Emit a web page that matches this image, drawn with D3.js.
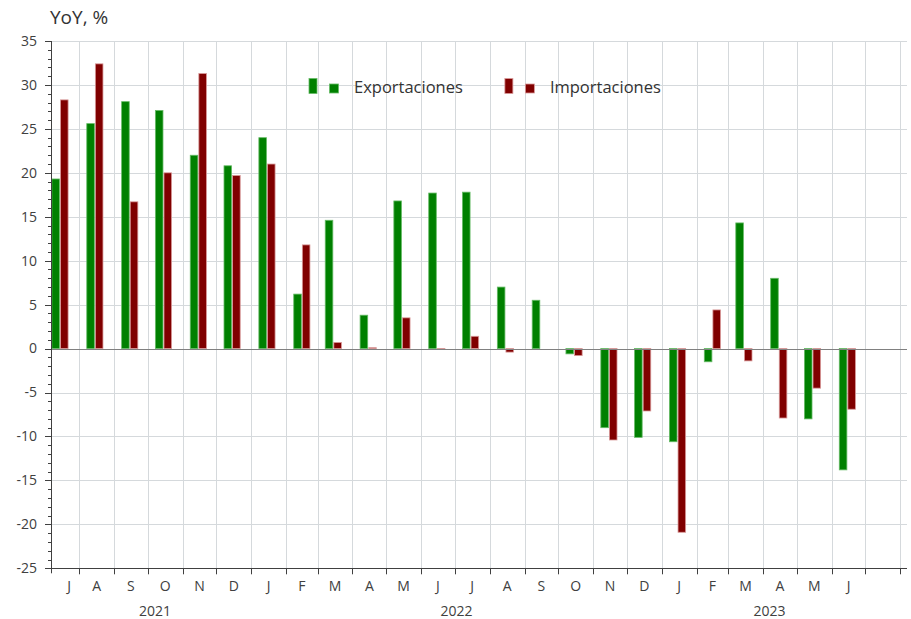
<!DOCTYPE html>
<html><head><meta charset="utf-8">
<script src="https://cdn.jsdelivr.net/npm/d3@7"></script>
<style>body{margin:0;background:#fff}svg{display:block}text{font-family:"Open Sans","Noto Sans",sans-serif}</style>
</head><body><svg id="c" width="911" height="619"></svg>
<script>
// ---- data ----
const months = ["2021-07","2021-08","2021-09","2021-10","2021-11","2021-12",
  "2022-01","2022-02","2022-03","2022-04","2022-05","2022-06","2022-07","2022-08","2022-09","2022-10","2022-11","2022-12",
  "2023-01","2023-02","2023-03","2023-04","2023-05","2023-06"];
const monthLabels = ["J","A","S","O","N","D","J","F","M","A","M","J","J","A","S","O","N","D","J","F","M","A","M","J"];
const years = ["2021","2022","2023"];
const exportaciones = [19.3,25.6,28.1,27.1,22.0,20.8,24.0,6.2,14.6,3.8,16.8,17.7,17.8,7.0,5.5,-0.6,-9.0,-10.1,-10.6,-1.5,14.3,8.0,-8.0,-13.8];
const importaciones = [28.3,32.4,16.7,20.0,31.3,19.7,21.0,11.8,0.7,0.1,3.5,-0.1,1.4,-0.4,0.0,-0.8,-10.4,-7.1,-20.9,4.4,-1.4,-7.9,-4.5,-6.9];
const yTicks = [35,30,25,20,15,10,5,0,-5,-10,-15,-20,-25];
const seriesNames = ["Exportaciones","Importaciones"];
const seriesFill = ["#008000","#800000"];
const seriesStroke = ["#66bb66","#d99a9a"];
const yTitle = "YoY, %";

// ---- layout ----
const L = 51, R = 907, T = 41, B = 568.3;
const svg = d3.select("#c");
const parse = d3.timeParse("%Y-%m");
const x = d3.scaleTime().domain([new Date(2021,6,7), new Date(2023,7,7)]).range([L, R]);
const y = d3.scaleLinear().domain([-25, 35]).range([B, T]);
const barW = 8.6;
const labL = L + 8, labR = R - 30;

// grid
const monthTicks = d3.timeMonth.range(new Date(2021,7,1), new Date(2023,7,8));
const g = svg.append("g");
g.selectAll("line.v").data(monthTicks).join("line")
  .attr("x1", d => Math.round(x(d)) + 0.5).attr("x2", d => Math.round(x(d)) + 0.5)
  .attr("y1", T).attr("y2", B).attr("stroke", "#d5d9dc").attr("stroke-width", 1);
g.selectAll("line.h").data(yTicks.filter(v => v !== -25 && v !== 0)).join("line")
  .attr("x1", L).attr("x2", R)
  .attr("y1", d => Math.round(y(d)) + 0.5).attr("y2", d => Math.round(y(d)) + 0.5)
  .attr("stroke", "#d5d9dc").attr("stroke-width", 1);

// bars
const data = months.map((m, i) => ({d: parse(m), v: [exportaciones[i], importaciones[i]]}));
const bars = svg.append("g");
data.forEach(row => {
  const cx = x(d3.timeDay.offset(row.d, 14));
  row.v.forEach((v, s) => {
    if (v === 0) return;
    const x0 = cx - barW + s * barW;
    const y0 = Math.min(y(v), y(0)), h = Math.abs(y(v) - y(0));
    bars.append("rect").attr("x", x0 + 0.5).attr("y", y0).attr("width", barW - 1).attr("height", Math.max(h, 0.6))
      .attr("fill", seriesFill[s]).attr("stroke", seriesStroke[s]).attr("stroke-width", 0.8)
      .attr("stroke-opacity", h > 0.5 ? 1 : 0.6);
  });
});

// zero line
svg.append("line").attr("x1", L).attr("x2", R).attr("y1", Math.round(y(0)) + 0.5).attr("y2", Math.round(y(0)) + 0.5)
  .attr("stroke", "#808080").attr("stroke-width", 1.2);

// y axis
const ya = svg.append("g");
ya.append("line").attr("x1", L + 0.5).attr("x2", L + 0.5).attr("y1", T).attr("y2", B + 5).attr("stroke", "#404040");
ya.selectAll("line.minor").data(d3.range(-25, 36, 1)).join("line")
  .attr("x1", d => d % 5 === 0 ? L - 6 : L - 3).attr("x2", L)
  .attr("y1", d => Math.round(y(d)) + 0.5).attr("y2", d => Math.round(y(d)) + 0.5).attr("stroke", "#404040");
ya.selectAll("text").data(yTicks).join("text")
  .attr("x", L - 14).attr("y", d => y(d)).attr("dy", "0.35em").attr("text-anchor", "end")
  .attr("font-size", 14).attr("fill", "#404040").text(d => d);

// x axis
const xa = svg.append("g");
xa.append("line").attr("x1", L).attr("x2", R).attr("y1", Math.round(B) + 0.5).attr("y2", Math.round(B) + 0.5).attr("stroke", "#404040");
xa.selectAll("line.t").data(monthTicks.filter(d => x(d) <= R - 2)).join("line")
  .attr("x1", d => Math.round(x(d)) + 0.5).attr("x2", d => Math.round(x(d)) + 0.5)
  .attr("y1", B).attr("y2", B + 6).attr("stroke", "#404040");
const span = (a, b) => (Math.max(x(a), labL) + Math.min(x(b), labR)) / 2;
xa.selectAll("text.m").data(data).join("text")
  .attr("x", (d) => span(d.d, d3.timeMonth.offset(d.d, 1)))
  .attr("y", B + 23).attr("text-anchor", "middle").attr("font-size", 14).attr("fill", "#404040")
  .text((d, i) => monthLabels[i]);
xa.selectAll("text.y").data(years).join("text")
  .attr("x", yr => span(new Date(+yr, 0, 1), new Date(+yr + 1, 0, 1)))
  .attr("y", B + 48).attr("text-anchor", "middle").attr("font-size", 14).attr("fill", "#404040")
  .text(d => d);

// title
svg.append("text").attr("x", 50).attr("y", 24).attr("font-size", 19).attr("fill", "#333").text(yTitle);

// legend
const lg = svg.append("g");
let lx = 309;
const ly = 92.5;
seriesNames.forEach((name, s) => {
  lg.append("rect").attr("x", lx).attr("y", ly - 14).attr("width", 8).attr("height", 15)
    .attr("fill", seriesFill[s]).attr("stroke", seriesStroke[s]).attr("stroke-width", 0.8);
  lg.append("rect").attr("x", lx + 20.5).attr("y", ly - 8.5).attr("width", 9).attr("height", 9)
    .attr("fill", seriesFill[s]).attr("stroke", seriesStroke[s]).attr("stroke-width", 0.8);
  const t = lg.append("text").attr("x", lx + 45).attr("y", ly).attr("font-size", 16.5).attr("fill", "#333").text(name);
  lx = lx + 45 + t.node().getComputedTextLength() + 42;
});
</script></body></html>
